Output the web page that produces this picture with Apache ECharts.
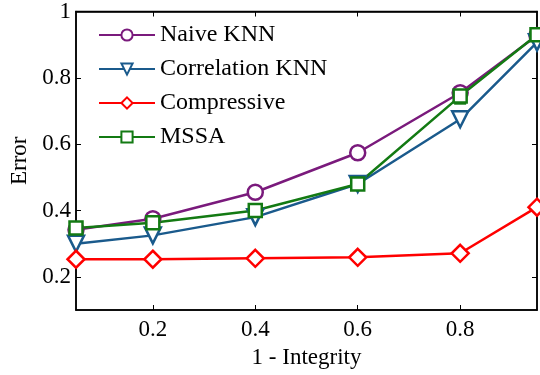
<!DOCTYPE html>
<html>
<head>
<meta charset="utf-8">
<script src="https://cdn.jsdelivr.net/npm/echarts@6/dist/echarts.min.js"></script>
<style>
  html, body { margin: 0; padding: 0; background: #fff; }
  #chart { width: 540px; height: 375px; }
</style>
</head>
<body>
<div id="chart"></div>
<script>
// x positions (1 - Integrity)
var xValues = [0.05, 0.2, 0.4, 0.6, 0.8, 0.95];
var naiveKnn = [0.342, 0.375, 0.455, 0.574, 0.755, 0.928];
var correlationKnn = [0.30, 0.325, 0.38, 0.48, 0.675, 0.907];
var compressive = [0.253, 0.253, 0.256, 0.259, 0.271, 0.41];
var mssa = [0.347, 0.363, 0.40, 0.48, 0.745, 0.93];
// error bar on MSSA: [x, low, high]
var mssaErr = [[0.8, 0.722, 0.768]];
var xTicks = [0.2, 0.4, 0.6, 0.8];
var yTicks = [0.2, 0.4, 0.6, 0.8, 1];

var font = "'Liberation Serif', 'DejaVu Serif', serif";

function pairs(ys) {
  return xValues.map(function (x, i) { return [x, ys[i]]; });
}

function lineSeries(name, data, color, symbol, size, rotate) {
  return {
    name: name,
    type: "line",
    data: pairs(data),
    symbol: symbol,
    symbolSize: size,
    symbolRotate: rotate || 0,
    showAllSymbol: true,
    lineStyle: { color: color, width: 2.5 },
    itemStyle: { color: "#fff", borderColor: color, borderWidth: 2.5 },
    z: 3
  };
}

var chart = echarts.init(document.getElementById("chart"));

var option = {
  animation: false,
  grid: { left: 76, top: 6, right: 3, bottom: 65, show: true, borderColor: "#000", borderWidth: 1.5 },
  legend: {
    left: 93,
    top: 18,
    orient: "vertical",
    itemWidth: 56,
    itemHeight: 14,
    itemGap: 10,
    textStyle: { fontFamily: font, fontSize: 24, color: "#000" },
    data: ["Naive KNN", "Correlation KNN", "Compressive", "MSSA"]
  },
  xAxis: [{
    type: "value",
    min: 0.05,
    max: 0.95,
    name: "1 - Integrity",
    nameLocation: "middle",
    nameGap: 36,
    nameTextStyle: { fontFamily: font, fontSize: 23, color: "#000" },
    axisLine: { lineStyle: { color: "#000", width: 1.5 } },
    axisTick: { inside: true, length: 5, customValues: xTicks, lineStyle: { color: "#000" } },
    axisLabel: { customValues: xTicks, fontFamily: font, fontSize: 23, color: "#000", margin: 8,
      formatter: function (v) { return String(+v.toFixed(1)); } },
    splitLine: { show: false }
  }, {
    type: "value",
    position: "top",
    min: 0.05,
    max: 0.95,
    axisLine: { lineStyle: { color: "#000", width: 1.5 } },
    axisTick: { inside: true, length: 5, customValues: xTicks, lineStyle: { color: "#000" } },
    axisLabel: { show: false },
    splitLine: { show: false }
  }],
  yAxis: [{
    type: "value",
    min: 0.1,
    max: 1,
    name: "Error",
    nameLocation: "middle",
    nameGap: 42,
    nameTextStyle: { fontFamily: font, fontSize: 23, color: "#000" },
    axisLine: { lineStyle: { color: "#000", width: 1.5 } },
    axisTick: { inside: true, length: 5, customValues: yTicks, lineStyle: { color: "#000" } },
    axisLabel: { customValues: yTicks, fontFamily: font, fontSize: 23, color: "#000", margin: 5,
      formatter: function (v) { return String(+v.toFixed(1)); } },
    splitLine: { show: false }
  }, {
    type: "value",
    position: "right",
    min: 0.1,
    max: 1,
    axisLine: { lineStyle: { color: "#000", width: 1.5 } },
    axisTick: { inside: true, length: 5, customValues: yTicks, lineStyle: { color: "#000" } },
    axisLabel: { show: false },
    splitLine: { show: false }
  }],
  series: [
    lineSeries("Naive KNN", naiveKnn, "#7a1a7c", "circle", 15),
    lineSeries("Correlation KNN", correlationKnn, "#1a5a8c", "triangle", 16, 180),
    lineSeries("Compressive", compressive, "#ff0000", "diamond", 17),
    lineSeries("MSSA", mssa, "#137a13", "rect", 13),
    {
      type: "custom",
      data: mssaErr,
      z: 2,
      renderItem: function (params, api) {
        var x = api.value(0);
        var lo = api.coord([x, api.value(1)]);
        var hi = api.coord([x, api.value(2)]);
        var w = 6;
        var style = { stroke: "#137a13", lineWidth: 2 };
        return {
          type: "group",
          children: [
            { type: "line", shape: { x1: lo[0], y1: lo[1], x2: hi[0], y2: hi[1] }, style: style },
            { type: "line", shape: { x1: lo[0] - w, y1: lo[1], x2: lo[0] + w, y2: lo[1] }, style: style },
            { type: "line", shape: { x1: hi[0] - w, y1: hi[1], x2: hi[0] + w, y2: hi[1] }, style: style }
          ]
        };
      }
    }
  ]
};

chart.setOption(option);
window.addEventListener("resize", function () {
  chart.resize();
});
</script>
</body>
</html>
